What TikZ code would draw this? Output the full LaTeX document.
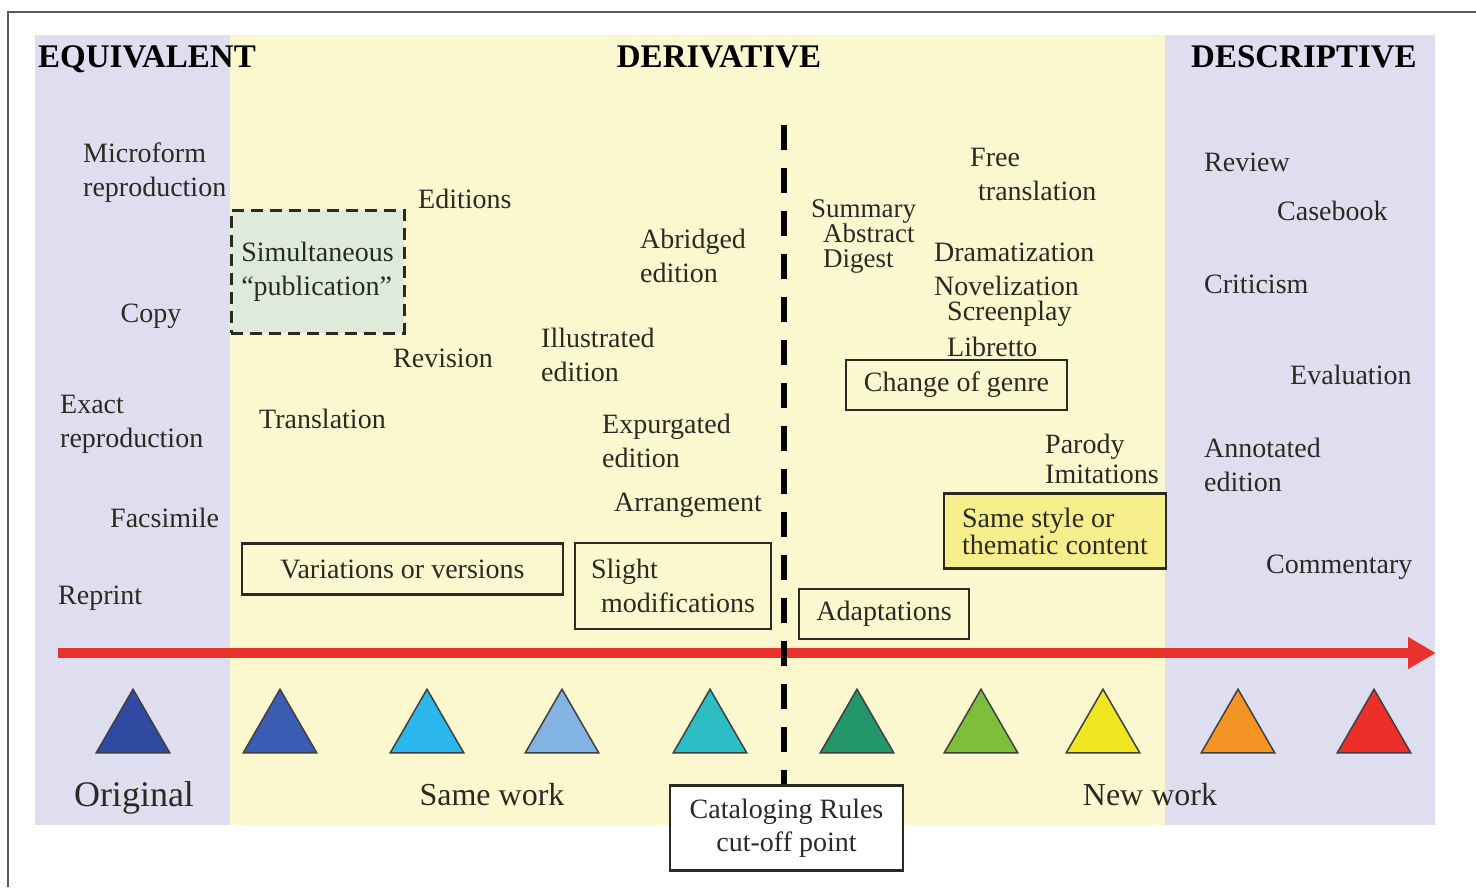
\documentclass[tikz,border=0pt]{standalone}
\usepackage{fontspec}
\setmainfont{Liberation Serif}
\usetikzlibrary{arrows.meta,shapes.geometric}
\definecolor{lavender}{HTML}{DFDEF0}
\definecolor{paleyellow}{HTML}{FBF8D0}
\definecolor{palegreen}{HTML}{DEEBDA}
\definecolor{boxyellow}{HTML}{F6EE8A}
\definecolor{inkdark}{HTML}{2B2A22}
\definecolor{arrowred}{HTML}{E8322B}
\definecolor{triA}{HTML}{2F4AA0}
\definecolor{triB}{HTML}{3A5CB2}
\definecolor{triC}{HTML}{2BB7EE}
\definecolor{triD}{HTML}{82B3E3}
\definecolor{triE}{HTML}{2CBDC5}
\definecolor{triF}{HTML}{23966B}
\definecolor{triG}{HTML}{7DBE3B}
\definecolor{triH}{HTML}{EEE523}
\definecolor{triI}{HTML}{F39424}
\definecolor{triJ}{HTML}{EC3029}
\tikzset{
  lbl/.style={inner sep=0pt, text=inkdark, align=left, yshift=-3pt,
    font=\fontsize{28}{34}\selectfont},
  hdr/.style={inner sep=0pt, text=black, font=\fontsize{33}{36}\selectfont\bfseries},
  frame/.style={draw=inkdark, line width=2.5pt, inner sep=0pt, text=inkdark,
    font=\fontsize{28}{27}\selectfont},
  worktri/.style={regular polygon, regular polygon sides=3, minimum size=85pt,
    inner sep=0pt, draw=black!75, line width=1.5pt},
  timeline/.style={arrowred, line width=10pt, -{Triangle[length=28pt,width=30pt]}},
  cutline/.style={black, line width=6pt, dash pattern=on 25pt off 18pt}
}
\begin{document}
\begin{tikzpicture}[x=1pt,y=-1pt]
			%%%%% PANELS %%%%%
			\useasboundingbox (0,0) rectangle (1476,887);
			\fill[lavender] (35,35) rectangle (230,825);
			\fill[paleyellow] (230,35) rectangle (1165,825);
			\fill[lavender] (1165,35) rectangle (1435,825);
			\draw[black!65, line width=2.5pt] (8,887) -- (8,12) -- (1476,12);
			
			\node[hdr, anchor=base west] (equiv) at (38,67) {EQUIVALENT};
			\node[hdr, anchor=base] (deriv) at (719,67) {DERIVATIVE};
			\node[hdr, anchor=base] (descr) at (1304,67) {DESCRIPTIVE};
			
			%%%%% EQUIVALENT %%%%%
			\node[lbl, anchor=west] (microform) at (83,170) {Microform\\reproduction};
			\node[lbl] (copy) at (151,313) {Copy};
			\node[lbl, anchor=west] (exact) at (60,421) {Exact\\reproduction};
			\node[lbl, anchor=west] (facsimile) at (110,515) {Facsimile};
			\node[lbl, anchor=west] (reprint) at (58,595) {Reprint};
			
			%%%%% DERIVATIVE, SAME WORK %%%%%
			\node[frame, line width=3pt, dash pattern=on 12pt off 7pt, fill=palegreen,
			  align=left, font=\fontsize{28}{34}\selectfont,
			  minimum width=173pt, minimum height=123pt] (simult) at (317.5,271.5)
			  {Simultaneous\\``publication''};
			\node[lbl, anchor=west] (editions) at (418,196) {Editions};
			\node[lbl, anchor=west] (revision) at (393,355) {Revision};
			\node[lbl, anchor=west] (translation) at (259,416) {Translation};
			\node[lbl, anchor=west] (illustrated) at (541,352) {Illustrated\\edition};
			\node[lbl, anchor=west] (abridged) at (640,253) {Abridged\\edition};
			\node[lbl, anchor=west] (expurgated) at (602,438) {Expurgated\\edition};
			\node[lbl, anchor=west] (arrangement) at (614,502) {Arrangement};
			\node[frame, minimum width=321pt, minimum height=51pt] (variations)
			  at (402.5,569) {Variations or versions};
			\node[frame, align=left, minimum width=196pt, minimum height=86pt,
			  font=\fontsize{28}{34}\selectfont] (slight)
			  at (673,586) {Slight\\\hspace*{10pt}modifications};
			
			%%%%% DERIVATIVE, NEW WORK %%%%%
			\node[lbl, anchor=west, font=\fontsize{27}{25}\selectfont] (summary)
			  at (811,233) {Summary\\\hspace*{12pt}Abstract\\\hspace*{12pt}Digest};
			\node[lbl, anchor=west] (free) at (970,171) {Free\\\hspace*{8pt}translation};
			\node[lbl, anchor=west] (drama) at (934,249) {Dramatization};
			\node[lbl, anchor=west] (novel) at (934,283) {Novelization};
			\node[lbl, anchor=west] (screen) at (947,311) {Screenplay};
			\node[lbl, anchor=west] (libretto) at (947,344) {Libretto};
			\node[frame, minimum width=221pt, minimum height=50pt] (genre)
			  at (956.5,385) {Change of genre};
			\node[lbl, anchor=west, font=\fontsize{28}{30}\selectfont] (parody)
			  at (1045,456) {Parody\\Imitations};
			\node[frame, fill=boxyellow, align=left, minimum width=222pt,
			  minimum height=75pt] (samestyle) at (1055,531)
			  {Same style or\\thematic content};
			\node[frame, minimum width=170pt, minimum height=50pt] (adapt)
			  at (884,614) {Adaptations};
			
			%%%%% DESCRIPTIVE %%%%%
			\node[lbl, anchor=west] (review) at (1204,159) {Review};
			\node[lbl, anchor=west] (casebook) at (1277,208) {Casebook};
			\node[lbl, anchor=west] (criticism) at (1204,281) {Criticism};
			\node[lbl, anchor=west] (evaluation) at (1290,372) {Evaluation};
			\node[lbl, anchor=west] (annotated) at (1204,462) {Annotated\\edition};
			\node[lbl, anchor=west] (commentary) at (1266,564) {Commentary};
			
			%%%%% TIMELINE %%%%%
			\coordinate (lineL) at (58,653);
			\coordinate (lineR) at (1436,653);
			\draw[timeline] (lineL) -- (lineR);
			
			\node[worktri, fill=triA] (t1) at (133,731.7) {};
			\node[worktri, fill=triB] (t2) at (280,731.7) {};
			\node[worktri, fill=triC] (t3) at (427,731.7) {};
			\node[worktri, fill=triD] (t4) at (562,731.7) {};
			\node[worktri, fill=triE] (t5) at (710,731.7) {};
			\node[worktri, fill=triF] (t6) at (857,731.7) {};
			\node[worktri, fill=triG] (t7) at (981,731.7) {};
			\node[worktri, fill=triH] (t8) at (1103,731.7) {};
			\node[worktri, fill=triI] (t9) at (1238,731.7) {};
			\node[worktri, fill=triJ] (t10) at (1374,731.7) {};
			
			\node[lbl, font=\fontsize{36}{40}\selectfont] (original) at (134,795) {Original};
			\node[lbl, font=\fontsize{32}{36}\selectfont] (samework) at (492,792) {Same work};
			\node[lbl, font=\fontsize{32}{36}\selectfont] (newwork) at (1150,792) {New work};
			
			%%%%% CUT-OFF %%%%%
			\node[frame, fill=white, align=center, minimum width=233pt,
			  minimum height=85pt, font=\fontsize{28}{33}\selectfont] (rules)
			  at (786.5,828) {Cataloging Rules\\cut-off point};
			\coordinate (cuttop) at (784,125);
			\draw[cutline] (cuttop) -- (cuttop |- rules.north);
\end{tikzpicture}
\end{document}
